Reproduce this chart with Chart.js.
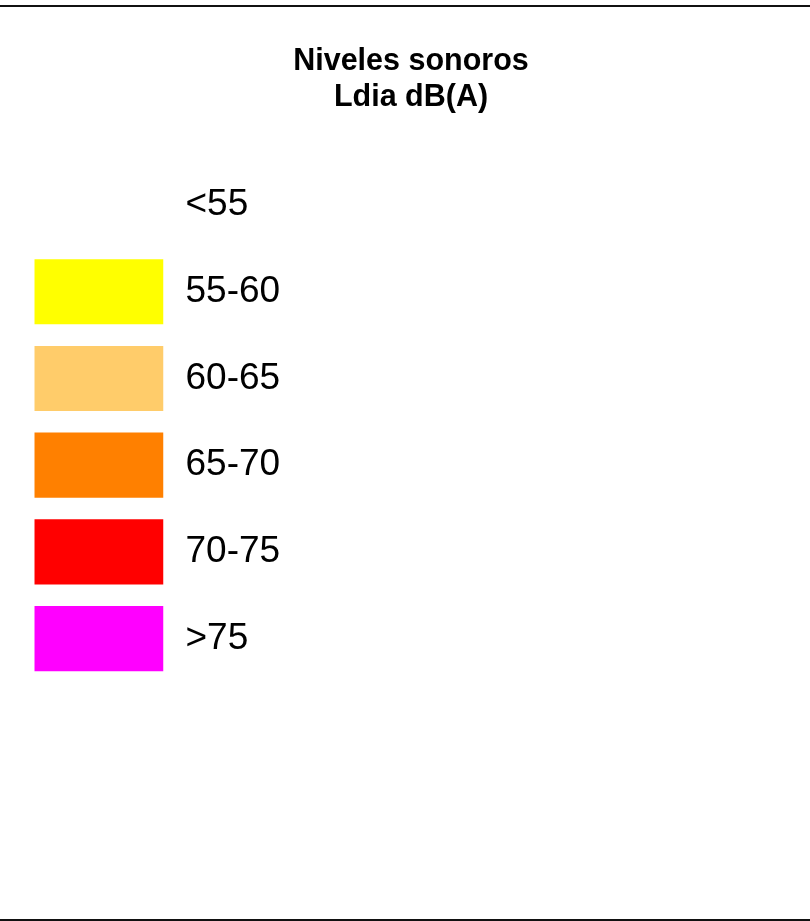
<!DOCTYPE html>
<html>
<head>
<meta charset="utf-8">
<script src="https://cdn.jsdelivr.net/npm/chart.js@4.4.1/dist/chart.umd.min.js"></script>
<style>
  html, body { margin: 0; padding: 0; background: #fff; }
  #wrap { position: relative; width: 810px; height: 921px; overflow: hidden; }
  #c { position: absolute; left: 0; top: 0; }
  .rule { position: absolute; left: 0; width: 810px; height: 2px; background: #111; }
</style>
</head>
<body>
<div id="wrap">
  <canvas id="c" width="810" height="921"></canvas>
  <div class="rule" style="top:5px"></div>
  <div class="rule" style="top:919px"></div>
</div>
<script>
const titleLines = ['Niveles sonoros', 'Ldia dB(A)'];
const categories = ['<55', '55-60', '60-65', '65-70', '70-75', '>75'];
const swatchValues = [1, 1, 1, 1, 1, 1];
const swatchColors = ['#FFFFFF', '#FFFF00', '#FFCC6A', '#FF8000', '#FF0000', '#FF00FF'];

new Chart(document.getElementById('c'), {
  type: 'bar',
  data: {
    labels: categories,
    datasets: [{
      data: swatchValues,
      backgroundColor: swatchColors,
      borderWidth: 0,
      barPercentage: 0.75,
      categoryPercentage: 1.0
    }]
  },
  options: {
    indexAxis: 'y',
    responsive: false,
    animation: false,
    devicePixelRatio: 1,
    layout: { padding: { left: 34.3, right: 22.3, top: 0, bottom: 239 } },
    plugins: {
      legend: { display: false },
      tooltip: { enabled: false },
      title: {
        display: true,
        text: titleLines,
        color: '#000',
        font: { family: 'Liberation Sans, Arial, sans-serif', size: 30.5, weight: 'bold', lineHeight: 1.15 },
        padding: { top: 44.5, bottom: 46.9 }
      }
    },
    scales: {
      x: { display: false, min: 0, max: 1 },
      y: {
        position: 'right',
        grid: { display: false, drawTicks: false },
        border: { display: false },
        ticks: {
          color: '#000',
          padding: 22,
          font: { family: 'Liberation Sans, Arial, sans-serif', size: 37 }
        },
        afterFit: (scale) => { scale.width = 810 - 22.3 - 163.5; }
      }
    }
  }
});
</script>
</body>
</html>
